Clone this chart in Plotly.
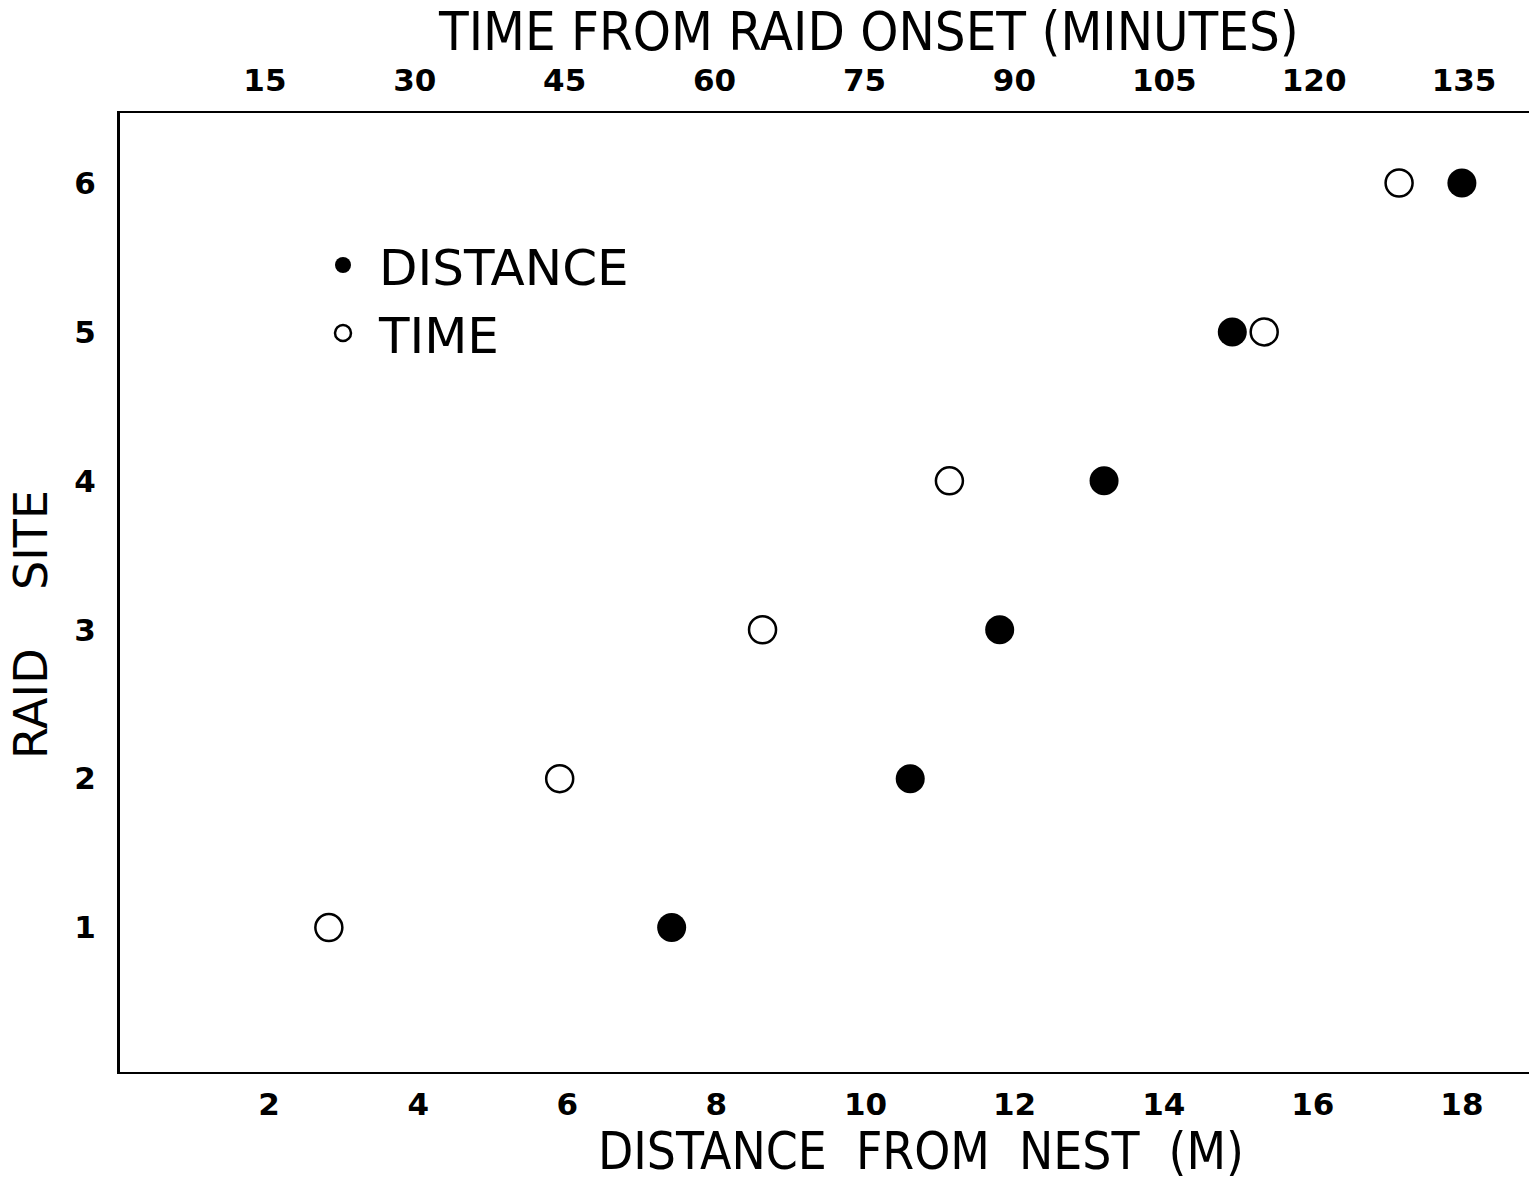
import plotly.graph_objects as go

# ---- data ----
raid_site = [1, 2, 3, 4, 5, 6]
distance_m = [7.4, 10.6, 11.8, 13.2, 14.92, 18.0]      # filled circles, bottom axis
time_min = [21.4, 44.5, 64.8, 83.5, 115, 128.5]        # open circles, top axis
distance_ticks = [2, 4, 6, 8, 10, 12, 14, 16, 18]
time_ticks = [15, 30, 45, 60, 75, 90, 105, 120, 135]
site_ticks = [1, 2, 3, 4, 5, 6]

W, H = 1529, 1181
L, R, T, B = 120, 0, 113, 109
pw, ph = W - L - R, H - T - B

def px_x(p):
    return (p - L) / pw

def px_y(p):
    return (H - B - p) / ph

tick_font = dict(family="DejaVu Sans", size=31, color="black", weight="bold")
top_title_font = dict(family="DejaVu Sans Condensed, DejaVu Sans", size=54, color="black")
bottom_title_font = dict(family="DejaVu Sans Condensed, DejaVu Sans", size=51, color="black")
ytitle_font = dict(family="DejaVu Sans", size=46, color="black")

fig = go.Figure()
fig.add_trace(go.Scatter(
    x=distance_m, y=raid_site, mode="markers", name="\u00a0DISTANCE",
    marker=dict(symbol="circle", size=29, color="black"),
    xaxis="x", yaxis="y",
))
fig.add_trace(go.Scatter(
    x=time_min, y=raid_site, mode="markers", name="\u00a0TIME",
    marker=dict(symbol="circle-open", size=27, color="black", line=dict(width=2.5, color="black")),
    xaxis="x2", yaxis="y",
))

x_max = 18.9
fig.update_layout(
    width=W, height=H,
    margin=dict(l=L, r=R, t=T, b=B, pad=0),
    paper_bgcolor="white", plot_bgcolor="white",
    showlegend=True,
    legend=dict(
        x=px_x(323), y=px_y(226), xanchor="left", yanchor="top",
        font=dict(family="DejaVu Sans", size=50, color="black"),
        bgcolor="rgba(0,0,0,0)", borderwidth=0, tracegroupgap=0,
        itemsizing="trace",
    ),
    xaxis=dict(
        range=[0, x_max], tickvals=distance_ticks, ticktext=[str(v) for v in distance_ticks],
        showline=True, linecolor="black", linewidth=2, mirror=False,
        showgrid=False, zeroline=False, ticks="", tickfont=tick_font,
        ticklabelstandoff=4,
    ),
    xaxis2=dict(
        range=[0.5, 141.5], tickvals=time_ticks, ticktext=[str(v) for v in time_ticks],
        overlaying="x", side="top", anchor="y",
        showline=True, linecolor="black", linewidth=2,
        showgrid=False, zeroline=False, ticks="", tickfont=tick_font,
        ticklabelstandoff=8,
    ),
    yaxis=dict(
        range=[0.03, 6.47], tickvals=site_ticks, ticktext=[str(v) for v in site_ticks],
        showline=True, linecolor="black", linewidth=3,
        showgrid=False, zeroline=False, ticks="", tickfont=tick_font,
        ticklabelstandoff=15,
    ),
    annotations=[
        dict(text="TIME FROM RAID ONSET (MINUTES)", xref="paper", yref="paper",
             x=px_x(868), y=px_y(31), xanchor="center", yanchor="middle",
             showarrow=False, font=top_title_font),
        dict(text="DISTANCE\u00a0 FROM\u00a0 NEST\u00a0 (M)", xref="paper", yref="paper",
             x=px_x(921), y=px_y(1151), xanchor="center", yanchor="middle",
             showarrow=False, font=bottom_title_font),
        dict(text="RAID\u00a0\u00a0\u00a0\u00a0SITE", xref="paper", yref="paper",
             x=px_x(31), y=px_y(625), xanchor="center", yanchor="middle",
             textangle=-90, showarrow=False, font=ytitle_font),
    ],
)

fig.write_html("out.html")
